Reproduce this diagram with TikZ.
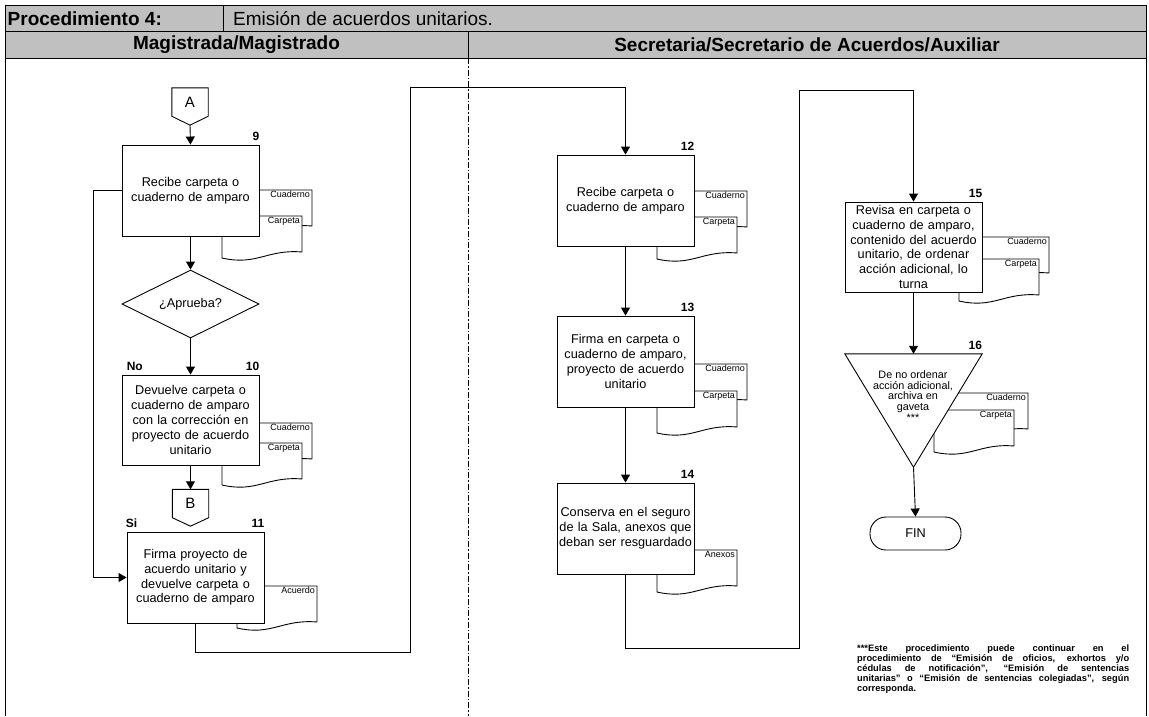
\documentclass[tikz,border=0pt]{standalone}
\usepackage{fontspec}
\setmainfont{Liberation Sans}
\usetikzlibrary{arrows.meta,calc,shapes.geometric}
\definecolor{hdrgray}{RGB}{192,192,192}

% document symbol: #1 left x, #2 top y, #3 label, #4 label node name
\newcommand{\docsym}[4]{%
  \draw[docst] (#1,#2) -- ({#1+80},#2) -- ({#1+80},{#2+36})
    .. controls ({#1+45},{#2+33}) and ({#1+35},{#2+50}) .. (#1,{#2+42}) -- cycle;
  \node[doclbl] (#4) at ({#1+78},{#2+0.8}) {#3};
}

\begin{document}
\begin{tikzpicture}[x=1pt,y=-1pt,
  every node/.style={inner sep=0pt},
  ln/.style={draw=black, line width=0.9pt},
  flow/.style={ln, -{Triangle[length=8pt,width=9pt]}},
  procbox/.style={ln, fill=white, rectangle, minimum width=137pt, minimum height=91pt,
    text width=133pt, align=center, font=\fontsize{12.7}{14.8}\selectfont},
  docst/.style={ln, fill=white},
  doclbl/.style={font=\fontsize{9}{10}\selectfont, anchor=north east},
  num/.style={font=\bfseries\fontsize{12}{14}\selectfont, anchor=base east},
  tag/.style={font=\bfseries\fontsize{12}{14}\selectfont, anchor=base west},
  hdr/.style={fill=hdrgray, draw=black, line width=0.9pt},
  hdrtxt/.style={font=\bfseries\fontsize{19}{22}\selectfont},
  conn/.style={minimum width=36pt, minimum height=28pt, font=\fontsize{15}{17}\selectfont},
]
\useasboundingbox (0,0) rectangle (1149,716);

% ---------- header ----------
\draw[hdr] (5,5.5) rectangle (1146,31);
\draw[hdr] (5,31) rectangle (1146,58);
\draw[ln] (223,5.5) -- (223,31);
\draw[ln] (468,31) -- (468,58);
\draw[ln] (5,58) -- (5,716);
\draw[ln] (1146,58) -- (1146,716);
\node[anchor=west, hdrtxt] (proc) at (7.5,18.5) {Procedimiento 4:};
\node[anchor=west, font=\fontsize{19}{22}\selectfont] (title) at (233,18.5) {Emisión de acuerdos unitarios.};
\node[hdrtxt] (lane1) at (236.5,45) {Magistrada/Magistrado};
\node[hdrtxt] (lane2) at (807,45) {Secretaria/Secretario de Acuerdos/Auxiliar};
\draw[line width=0.8pt, dash pattern=on 6pt off 2pt on 1.5pt off 2pt] (468,58) -- (468,716);

% ---------- documents (behind the boxes) ----------
\docsym{232}{190}{Cuaderno}{d9a}
\docsym{222}{216}{Carpeta}{d9b}
\docsym{232}{423}{Cuaderno}{d10a}
\docsym{222}{443}{Carpeta}{d10b}
\docsym{237}{586}{Acuerdo}{d11}
\docsym{667}{191}{Cuaderno}{d12a}
\docsym{657}{217}{Carpeta}{d12b}
\docsym{667}{364}{Cuaderno}{d13a}
\docsym{657}{391}{Carpeta}{d13b}
\docsym{657}{550}{Anexos}{d14}
\docsym{969}{237}{Cuaderno}{d15a}
\docsym{959}{259}{Carpeta}{d15b}
\docsym{948}{393}{Cuaderno}{d16a}
\docsym{934}{410}{Carpeta}{d16b}

% ---------- left lane ----------
\node[conn] (ca) at (190,102) {A};
\draw[ln] (ca.north west) -- (ca.north east) -- (ca.south east) -- ($(ca.south)+(0,9)$) -- (ca.south west) -- cycle;
\coordinate (catip) at ($(ca.south)+(0,9)$);

\node[procbox] (b9) at (190.5,190.5) {Recibe carpeta o\\cuaderno de amparo};
\node[ln, diamond, aspect=2, minimum width=137pt, minimum height=68pt,
      font=\fontsize{12.7}{14.8}\selectfont] (dec) at (190.5,304) {¿Aprueba?};
\node[procbox, minimum height=90pt] (b10) at (190.5,420) {Devuelve carpeta o\\cuaderno de amparo\\con la corrección en\\proyecto de acuerdo\\unitario};

\node[conn] (cb) at (190.5,503.5) {B};
\draw[ln] (cb.north west) -- (cb.north east) -- (cb.south east) -- ($(cb.south)+(0,8.5)$) -- (cb.south west) -- cycle;

\node[procbox] (b11) at (195.5,577.5) {Firma proyecto de\\acuerdo unitario y\\devuelve carpeta o\\cuaderno de amparo};

\node[num] (n9) at ($(b9.north east)+(0,-4)$) {9};
\node[num] (n10) at ($(b10.north east)+(0,-4)$) {10};
\node[num] (n11) at ($(b11.north east)+(0,-4)$) {11};
\node[tag] (no) at ($(b10.north west)+(5,-4)$) {No};
\node[tag] (si) at ($(b11.north west)+(-1,-4)$) {Si};

\draw[flow] (catip) -- (b9.north);
\draw[flow] (b9.south) -- (dec.north);
\draw[flow] (dec.south) -- (b10.north);
\draw[flow] (b10.south) -- (cb.north);
\coordinate (lx) at (93,0);
\draw[flow] (b9.west) -- (b9.west -| lx) |- (b11.west);

% ---------- right lane ----------
\node[procbox] (b12) at (625.5,200.5) {Recibe carpeta o\\cuaderno de amparo};
\node[procbox] (b13) at (625.5,361.5) {Firma en carpeta o\\cuaderno de amparo,\\proyecto de acuerdo\\unitario};
\node[procbox] (b14) at (625.5,528.5) {Conserva en el seguro\\de la Sala, anexos que\\deban ser resguardado};
\node[procbox, minimum height=90pt] (b15) at (913.5,247) {Revisa en carpeta o\\cuaderno de amparo,\\contenido del acuerdo\\unitario, de ordenar\\acción adicional, lo\\turna};

\node[minimum width=137pt, minimum height=113pt] (t16) at (913.5,410.5) {};
\draw[ln, fill=white] (t16.north west) -- (t16.north east) -- (t16.south) -- cycle;
\node[align=center, font=\fontsize{10.8}{10.7}\selectfont, anchor=north] (t16txt) at (913,370.5)
  {De no ordenar\\acción adicional,\\archiva en\\gaveta\\***};

\node[ln, rounded corners=16pt, minimum width=91pt, minimum height=33pt,
      font=\fontsize{12.7}{14.8}\selectfont] (fin) at (915.5,533.5) {FIN};

\node[num] (n12) at ($(b12.north east)+(0,-4)$) {12};
\node[num] (n13) at ($(b13.north east)+(0,-4)$) {13};
\node[num] (n14) at ($(b14.north east)+(0,-4)$) {14};
\node[num] (n15) at ($(b15.north east)+(0,-4)$) {15};
\node[num] (n16) at ($(t16.north east)+(0,-4)$) {16};

\coordinate (r1a) at (410,652);
\coordinate (r1b) at (410,87);
\draw[flow] (b11.south) |- (r1a) -- (r1b) -| (b12.north);
\draw[flow] (b12.south) -- (b13.north);
\draw[flow] (b13.south) -- (b14.north);
\coordinate (r2a) at (799,648);
\coordinate (r2b) at (799,90);
\draw[flow] (b14.south) |- (r2a) -- (r2b) -| (b15.north);
\draw[flow] (b15.south) -- (t16.north);
\draw[flow] (t16.south) -- (fin.north);

% ---------- footnote ----------
\node[anchor=north west, align=left, font=\bfseries\fontsize{9.3}{10}\selectfont] (nota) at (857,644.5)
  {\makebox[272pt][s]{***Este procedimiento puede continuar en el}\\
   \makebox[272pt][s]{procedimiento de “Emisión de oficios, exhortos y/o}\\
   \makebox[272pt][s]{cédulas de notificación”, “Emisión de sentencias}\\
   \makebox[272pt][s]{unitarias” o “Emisión de sentencias colegiadas”, según}\\
   corresponda.};
\end{tikzpicture}
\end{document}
